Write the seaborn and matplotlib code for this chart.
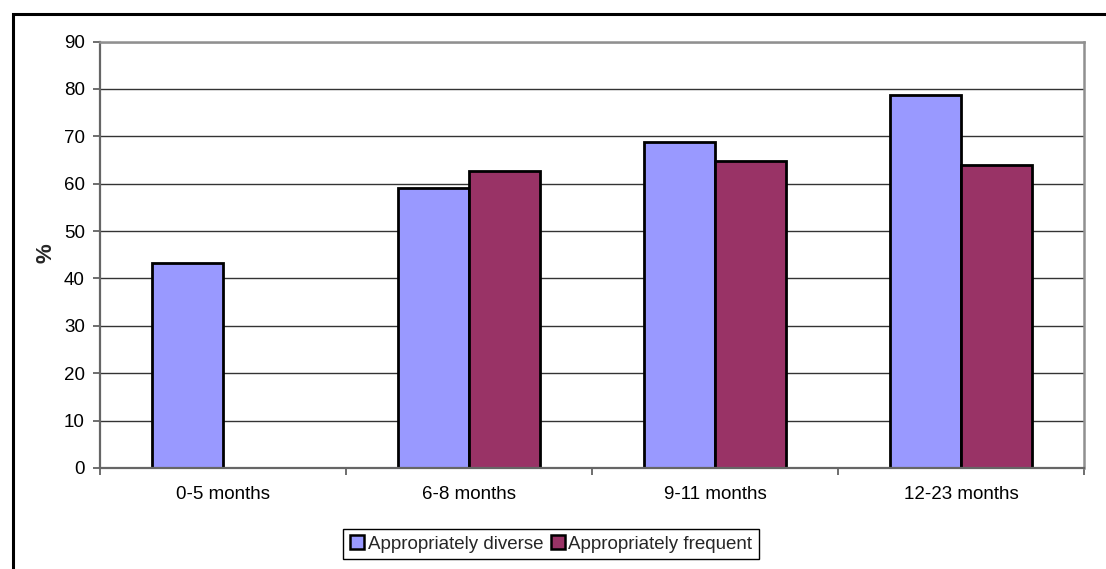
import matplotlib
matplotlib.use("Agg")
import matplotlib.pyplot as plt
from matplotlib.patches import Rectangle, Patch
import numpy as np
import pandas as pd
import seaborn as sns

# Age groups and the share of children meeting each feeding criterion (%)
age_groups = ["0-5 months", "6-8 months", "9-11 months", "12-23 months"]
diverse = [43.2, 59.1, 68.8, 78.7]
frequent = [np.nan, 62.6, 64.7, 63.9]
series_names = ["Appropriately diverse", "Appropriately frequent"]
y_ticks = [0, 10, 20, 30, 40, 50, 60, 70, 80, 90]

df = pd.DataFrame({
    "age": age_groups * 2,
    "series": [series_names[0]] * 4 + [series_names[1]] * 4,
    "value": diverse + frequent,
})

sns.set_theme(style="white")
plt.rcParams["font.family"] = ["Liberation Sans", "DejaVu Sans"]

colors = {series_names[0]: "#9999FF", series_names[1]: "#993366"}
FS = 13.5

fig = plt.figure(figsize=(11.06, 5.69), dpi=100)
ax = fig.add_axes([100 / 1106, 1 - 468 / 569, 984 / 1106, 426.5 / 569])

sns.barplot(data=df, x="age", y="value", hue="series", order=age_groups,
            hue_order=series_names, palette=colors, width=0.574, gap=0,
            errorbar=None, edgecolor="black", linewidth=2.0, saturation=1,
            legend=False, ax=ax)

ax.set_xlim(-0.5, 3.5)
ax.set_ylim(0, 90)
ax.set_yticks(y_ticks)
ax.set_yticklabels([str(t) for t in y_ticks])
ax.yaxis.grid(True, color="#333333", linewidth=1.0)
ax.set_axisbelow(True)

# category boundary ticks on the x axis, labels centred on each group
ax.set_xticks(np.arange(len(age_groups)))
ax.set_xticklabels(age_groups)
ax.set_xticks(np.arange(len(age_groups) + 1) - 0.5, minor=True)
ax.tick_params(axis="x", which="major", length=0, pad=13, labelsize=FS,
               colors="black")
ax.tick_params(axis="x", which="minor", length=5, width=1.2, color="#555555",
               direction="out", bottom=True)
ax.tick_params(axis="y", length=5, width=1.2, color="#555555", pad=6,
               labelsize=FS, labelcolor="black", left=True)

ax.set_xlabel("")
ax.set_ylabel("%", fontsize=16, fontweight="bold")
ax.yaxis.set_label_coords((57 - 100) / 984, (468 - 253) / 426.5)

for side in ["left", "bottom"]:
    ax.spines[side].set_color("#666666")
    ax.spines[side].set_linewidth(1.6)
for side in ["top", "right"]:
    ax.spines[side].set_visible(True)
    ax.spines[side].set_color("#909090")
    ax.spines[side].set_linewidth(1.8)

handles = [Patch(facecolor=colors[s], edgecolor="black", linewidth=1.8)
           for s in series_names]
fig.legend(handles, series_names, loc="center", ncol=2,
           bbox_to_anchor=(551 / 1106, 1 - 544 / 569), frameon=True,
           fancybox=False, edgecolor="black", framealpha=1,
           fontsize=FS, handlelength=0.75, handleheight=0.75,
           handletextpad=0.2, columnspacing=0.4, borderpad=0.35,
           borderaxespad=0)
fig.legends[0].get_frame().set_linewidth(1.0)

# outer chart-area frame
fig.patches.append(Rectangle((13 / 1106, -0.05), 1.2, 1 - 14 / 569 + 0.05,
                             transform=fig.transFigure, fill=False,
                             edgecolor="black", linewidth=2.2, zorder=0))

fig.savefig("out.png", dpi=100, facecolor="white")
